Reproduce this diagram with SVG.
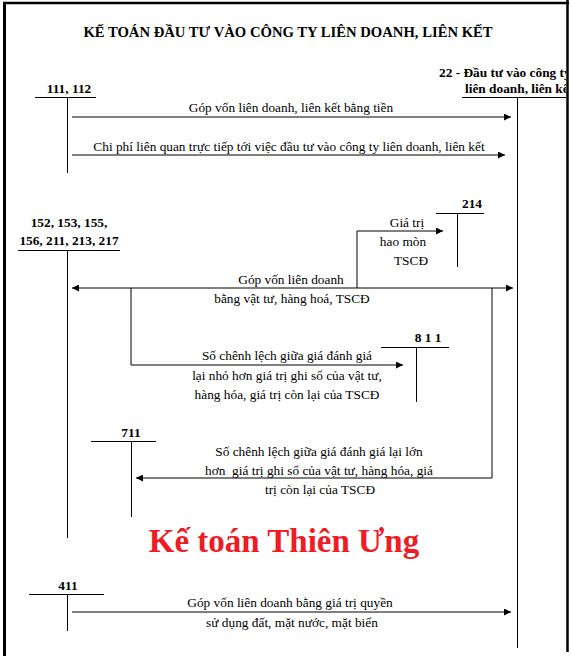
<svg xmlns="http://www.w3.org/2000/svg" width="571" height="656" viewBox="0 0 571 656">
<defs>
<style>
text{font-family:"Liberation Serif","Times New Roman",serif;fill:#000}
.t{font-size:13.33px;text-anchor:middle}
.acc{font-size:13.33px;font-weight:bold}
.ttl{font-size:14.67px;font-weight:bold;text-anchor:middle}
.wm{font-size:33px;font-weight:bold;fill:#ee1c25;text-anchor:middle}
.ln{stroke:#000;stroke-width:1;fill:none}
.ar{stroke:#000;stroke-width:1;fill:none;marker-end:url(#ah)}
.frame{stroke:#000;fill:none}
</style>
<marker id="ah" viewBox="0 0 10 10" refX="10" refY="5" markerWidth="9" markerHeight="7" markerUnits="userSpaceOnUse" orient="auto-start-reverse">
<path d="M0,0 L10,5 L0,10 z" fill="#000"/>
</marker>
<clipPath id="inner"><rect x="0" y="0" width="566" height="656"/></clipPath>
</defs>
<g id="frame">
<line class="frame" x1="3" y1="3" x2="569" y2="3" stroke-width="2.5"/>
<line class="frame" x1="4.5" y1="2" x2="4.5" y2="656" stroke-width="3"/>
<line class="frame" x1="567.5" y1="0" x2="567.5" y2="652" stroke-width="2.5"/>
</g>
<text id="title" class="ttl" x="288" y="37">KẾ TOÁN ĐẦU TƯ VÀO CÔNG TY LIÊN DOANH, LIÊN KẾT</text>
<g id="acc-111">
<text class="acc" x="69" y="93" text-anchor="middle">111, 112</text>
<line class="ln" x1="35" y1="97.5" x2="96" y2="97.5"/>
<line class="ln" x1="67.5" y1="97" x2="67.5" y2="173"/>
</g>
<g id="acc-22" clip-path="url(#inner)">
<text class="acc" x="439" y="77">22 - Đầu tư vào công ty</text>
<text class="acc" x="465" y="93">liên doanh, liên kết</text>
<line class="ln" x1="462" y1="97.5" x2="567" y2="97.5"/>
<line class="ln" x1="517.5" y1="97" x2="517.5" y2="648"/>
</g>
<g id="acc-214">
<text class="acc" x="472" y="208" text-anchor="middle">214</text>
<line class="ln" x1="436" y1="213.5" x2="484" y2="213.5"/>
<line class="ln" x1="457.5" y1="213" x2="457.5" y2="267"/>
</g>
<g id="acc-152">
<text class="acc" x="69" y="227" text-anchor="middle">152, 153, 155,</text>
<text class="acc" x="69" y="245" text-anchor="middle">156, 211, 213, 217</text>
<line class="ln" x1="18" y1="250.5" x2="120" y2="250.5"/>
<line class="ln" x1="67.5" y1="250" x2="67.5" y2="538"/>
</g>
<g id="acc-811">
<text class="acc" x="428" y="342" text-anchor="middle">8 1 1</text>
<line class="ln" x1="381" y1="347.5" x2="449" y2="347.5"/>
<line class="ln" x1="416.5" y1="347" x2="416.5" y2="402"/>
</g>
<g id="acc-711">
<text class="acc" x="131" y="437" text-anchor="middle">711</text>
<line class="ln" x1="91" y1="441.5" x2="156" y2="441.5"/>
<line class="ln" x1="131.5" y1="441" x2="131.5" y2="517"/>
</g>
<g id="acc-411">
<text class="acc" x="68" y="590" text-anchor="middle">411</text>
<line class="ln" x1="29" y1="594.5" x2="104" y2="594.5"/>
<line class="ln" x1="67.5" y1="594" x2="67.5" y2="631"/>
</g>
<g id="connectors">
<line class="ar" x1="72" y1="117" x2="511" y2="117"/>
<line class="ar" x1="72" y1="155" x2="505" y2="155"/>
<polyline class="ar" points="357,288 357,231 443,231"/>
<line class="ar" x1="72" y1="288" x2="513" y2="288" marker-start="url(#ah)"/>
<polyline class="ar" points="131,288 131,365 403,365"/>
<polyline class="ar" points="492,288 492,478 136,478"/>
<line class="ar" x1="72" y1="612" x2="511" y2="612"/>
</g>
<g id="labels">
<text class="t" x="291" y="112">Góp vốn liên doanh, liên kết bằng tiền</text>
<text class="t" x="289" y="151">Chi phí liên quan trực tiếp tới việc đầu tư vào công ty liên doanh, liên kết</text>
<text class="t" x="407" y="227">Giá trị</text>
<text class="t" x="403" y="246">hao mòn</text>
<text class="t" x="411" y="265">TSCĐ</text>
<text class="t" x="291" y="284">Góp vốn liên doanh</text>
<text class="t" x="292" y="303">bằng vật tư, hàng hoá, TSCĐ</text>
<text class="t" x="287" y="360">Số chênh lệch giữa giá đánh giá</text>
<text class="t" x="287" y="380">lại nhỏ hơn giá trị ghi sổ của vật tư,</text>
<text class="t" x="287" y="399">hàng hóa, giá trị còn lại của TSCĐ</text>
<text class="t" x="319" y="456">Số chênh lệch giữa giá đánh giá lại lớn</text>
<text class="t" x="319" y="475" xml:space="preserve">hơn  giá trị ghi sổ của vật tư, hàng hóa, giá</text>
<text class="t" x="320" y="494">trị còn lại của TSCĐ</text>
<text class="t" x="290" y="607">Góp vốn liên doanh bằng giá trị quyền</text>
<text class="t" x="292" y="627">sử dụng đất, mặt nước, mặt biển</text>
</g>
<text id="watermark" class="wm" x="284" y="552">Kế toán Thiên Ưng</text>
</svg>
